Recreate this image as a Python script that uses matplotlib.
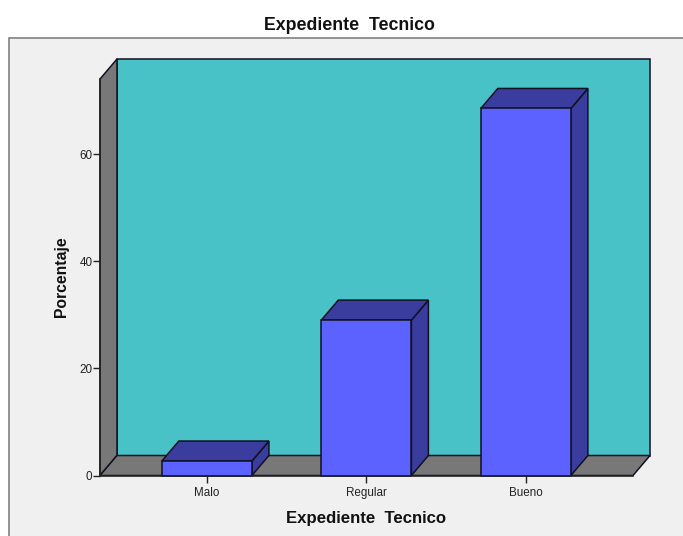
import matplotlib
matplotlib.use("Agg")
import matplotlib.pyplot as plt
from matplotlib.patches import Polygon, Rectangle

categories = ["Malo", "Regular", "Bueno"]
percentages = [2.7, 29.0, 68.5]
y_ticks = [0, 20, 40, 60]

WIDTH, HEIGHT = 683, 536
BAR_WIDTH = 0.565
X_MIN, X_MAX = -0.67, 2.672
Y_MAX = 74.0
DEPTH_X = 17 / 159.5
DEPTH_Y = 20 / 5.36

plt.rcParams['font.family'] = ['Liberation Sans', 'DejaVu Sans']


def add_face(ax, points, color):
    ax.add_patch(Polygon(points, closed=True, facecolor=color,
                         edgecolor="#111122", linewidth=1.1,
                         clip_on=False))


def draw_walls(ax):
    dx, dy = DEPTH_X, DEPTH_Y
    # back wall, left wall, floor
    add_face(ax, [(X_MIN + dx, dy), (X_MAX + dx, dy),
                  (X_MAX + dx, Y_MAX + dy), (X_MIN + dx, Y_MAX + dy)],
             "#48c2c7")
    add_face(ax, [(X_MIN, 0), (X_MIN + dx, dy),
                  (X_MIN + dx, Y_MAX + dy), (X_MIN, Y_MAX)], "#787878")
    add_face(ax, [(X_MIN, 0), (X_MAX, 0),
                  (X_MAX + dx, dy), (X_MIN + dx, dy)], "#787878")


def draw_bar(ax, pos, value):
    left = pos - BAR_WIDTH / 2
    right = pos + BAR_WIDTH / 2
    dx, dy = DEPTH_X, DEPTH_Y
    add_face(ax, [(right, 0), (right + dx, dy),
                  (right + dx, value + dy), (right, value)], "#3a3d9e")
    add_face(ax, [(left, value), (right, value),
                  (right + dx, value + dy), (left + dx, value + dy)],
             "#3a3d9e")
    ax.bar(pos, value, width=BAR_WIDTH, color="#5b62ff",
           edgecolor="#111122", linewidth=1.1, zorder=3, clip_on=False)


def main():
    fig = plt.figure(figsize=(WIDTH / 100, HEIGHT / 100), dpi=100)
    fig.patch.set_facecolor("white")
    fig.add_artist(Rectangle((9 / WIDTH, -0.01), 1, 1 - 38 / HEIGHT + 0.01,
                             transform=fig.transFigure,
                             facecolor="#f0f0f0", edgecolor="#808080",
                             linewidth=1.2, zorder=-1))

    ax = fig.add_axes([100 / WIDTH, 1 - 475.5 / HEIGHT,
                       533 / WIDTH, 396.5 / HEIGHT])
    ax.patch.set_visible(False)
    ax.set_xlim(X_MIN, X_MAX)
    ax.set_ylim(0, Y_MAX)

    draw_walls(ax)
    for pos, value in enumerate(percentages):
        draw_bar(ax, pos, value)

    for side in ["top", "right"]:
        ax.spines[side].set_visible(False)
    for side in ["left", "bottom"]:
        ax.spines[side].set_linewidth(1.1)
        ax.spines[side].set_color("#222222")
        ax.spines[side].set_zorder(5)

    ax.set_xticks(range(len(categories)))
    ax.set_xticklabels(categories)
    ax.set_yticks(y_ticks)
    ax.tick_params(axis="x", length=5, width=1, labelsize=8.4, pad=3,
                   colors="#222222")
    ax.tick_params(axis="y", length=5, width=1, labelsize=8.4, pad=0.5,
                   colors="#222222")

    fig.text(349.5 / WIDTH, 1 - 25 / HEIGHT, "Expediente  Tecnico",
             fontsize=12.8, fontweight="bold", ha="center", va="center",
             color="#111111")
    fig.text(366.5 / WIDTH, 1 - 518 / HEIGHT, "Expediente  Tecnico",
             fontsize=12.1, fontweight="bold", ha="center", va="center",
             color="#111111")
    fig.text(62 / WIDTH, 1 - 277 / HEIGHT, "Porcentaje",
             fontsize=11.3, fontweight="bold", ha="center", va="center",
             rotation=90, color="#111111")

    fig.savefig("out.png", dpi=100)


if __name__ == "__main__":
    main()
